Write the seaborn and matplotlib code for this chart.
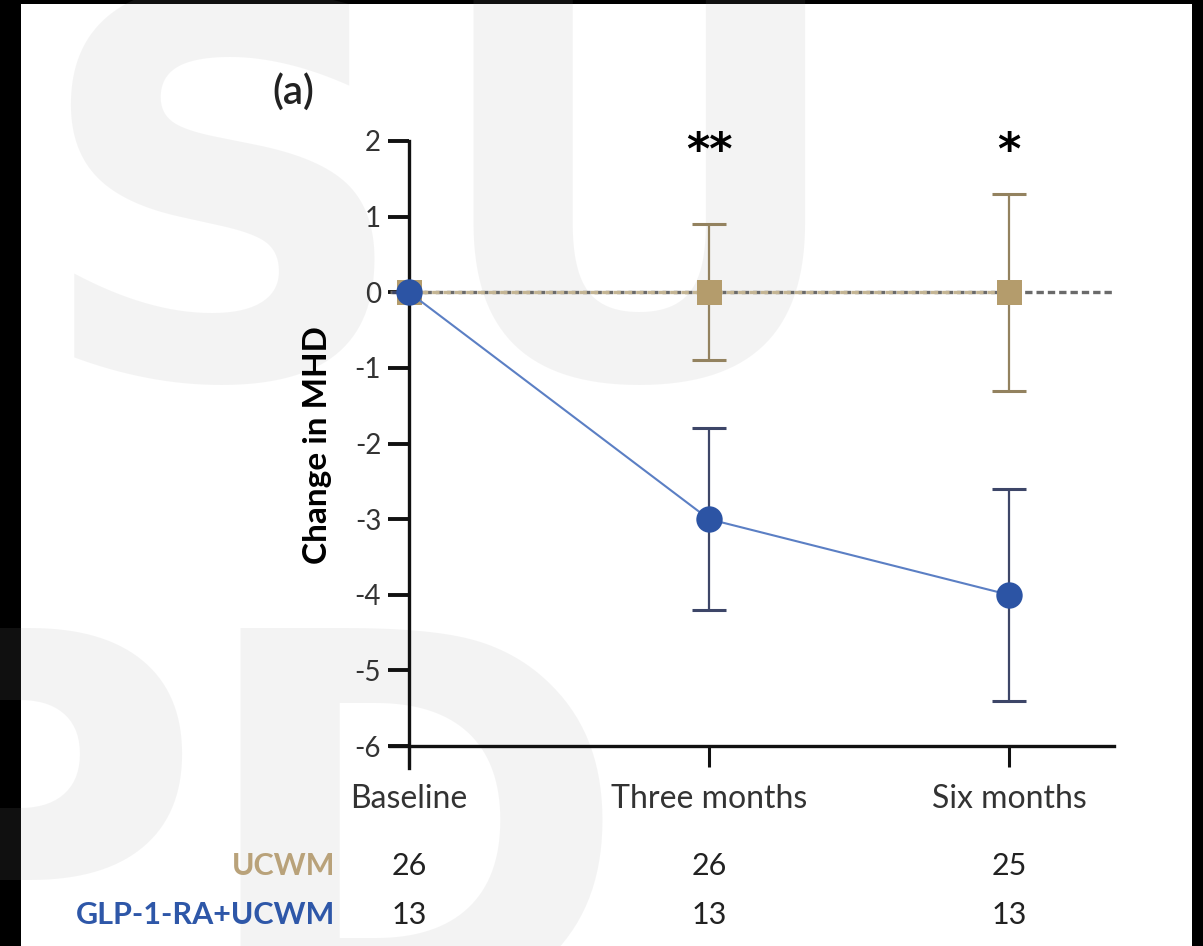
import pandas as pd
import matplotlib.pyplot as plt
import matplotlib.transforms as mtransforms
from matplotlib.patches import Rectangle
import seaborn as sns

# data
timepoints = ["Baseline", "Three months", "Six months"]
ucwm_mean = [0, 0, 0]
ucwm_err = [0, 0.9, 1.3]
glp_mean = [0, -3, -4]
glp_err = [0, 1.2, 1.4]
ucwm_n = [26, 26, 25]
glp_n = [13, 13, 13]
stars = ["", "**", "*"]
yticks = [2, 1, 0, -1, -2, -3, -4, -5, -6]

pos = list(range(len(timepoints)))
df_u = pd.DataFrame({"pos": pos, "mean": ucwm_mean, "err": ucwm_err})
df_g = pd.DataFrame({"pos": pos, "mean": glp_mean, "err": glp_err})

sns.set_theme(style="white")
plt.rcParams["font.family"] = ["Lato", "DejaVu Sans"]

W, H = 1203, 946
fig = plt.figure(figsize=(W / 100, H / 100), dpi=100, facecolor="black")


def fx(px):
    return px / W


def fy(py):
    return 1 - py / H


# white page inside black frame
fig.patches.append(Rectangle((fx(21), 0), fx(1192) - fx(21), fy(4), transform=fig.transFigure,
                             facecolor="white", edgecolor="none", zorder=-3))

# faint watermark letters
wm = dict(fontsize=380, fontweight="bold", color=(0.6, 0.6, 0.6), alpha=0.11,
          ha="center", va="baseline", zorder=-2, family="DejaVu Sans")
fig.text(fx(222), fy(378), "S", **wm)
fig.text(fx(639), fy(378), "U", **wm)
fig.text(fx(10), fy(1013), "P", **wm)
fig.text(fx(411), fy(1013), "D", **wm)

ax = fig.add_axes([fx(389.5), fy(768), fx(1114) - fx(389.5), fy(141) - fy(768)])
ax.patch.set_alpha(0)

tan = "#b49c6c"
blue = "#2c54a4"

ax.axhline(0, color="#6a6a6a", lw=2.4, ls=(0, (2.2, 1.2)), zorder=1)

ax.errorbar(df_u["pos"], df_u["mean"], yerr=df_u["err"], fmt="none", ecolor="#93825f",
            elinewidth=1.6, capsize=12, capthick=2.2, zorder=2)
ax.errorbar(df_g["pos"], df_g["mean"], yerr=df_g["err"], fmt="none", ecolor="#3d4668",
            elinewidth=1.6, capsize=12, capthick=2.2, zorder=2)

sns.lineplot(data=df_u, x="pos", y="mean", ax=ax, color="#c4b594", linewidth=2.4,
             linestyle=(0, (2.2, 1.2)), marker="s", markersize=18, markerfacecolor=tan,
             markeredgecolor=tan, markeredgewidth=0, zorder=3)
sns.lineplot(data=df_g, x="pos", y="mean", ax=ax, color="#5b7fc4", linewidth=1.5,
             marker="o", markersize=19, markerfacecolor=blue,
             markeredgecolor=blue, markeredgewidth=0, zorder=4)

ax.set_xlim(-0.065, 2.35)
ax.set_ylim(-6.29, 2.0)
ax.spines["left"].set_position(("data", 0))
ax.spines["bottom"].set_position(("data", -6))
for s in ["top", "right"]:
    ax.spines[s].set_visible(False)
for s in ["left", "bottom"]:
    ax.spines[s].set_linewidth(2.4)
    ax.spines[s].set_color("#111111")

ax.set_xticks(pos)
ax.set_xticklabels(timepoints, fontsize=23, color="#333333")
ax.set_yticks(yticks)
ax.set_yticklabels([str(v) for v in yticks], fontsize=20, color="#333333")
ax.tick_params(axis="x", direction="out", length=15, width=2.2, pad=12, colors="#111111",
               labelcolor="#333333", bottom=True)
ax.tick_params(axis="y", direction="out", length=15, width=2.8, pad=5, colors="#111111",
               labelcolor="#333333", left=True)
ax.set_xlabel("")
ax.set_ylabel("Change in MHD", fontsize=24, fontweight="bold", color="black")
ax.yaxis.set_label_coords((332 - 389.5) / 724.5, 0.515)

# significance marks
for p, s in zip(pos, stars):
    if s:
        ax.text(p, 1.86, s, fontsize=32, fontweight="bold", ha="center", va="center",
                family="DejaVu Sans", color="black", clip_on=False)

# panel label
fig.text(fx(293), fy(92), "(a)", fontsize=29, fontweight="semibold", ha="center",
         va="center", color="#222222")

# number at risk rows
trans = mtransforms.blended_transform_factory(ax.transData, fig.transFigure)
fig.text(fx(335), fy(866), "UCWM", fontsize=22, fontweight="bold", color="#b9a27a",
         ha="right", va="center")
fig.text(fx(335), fy(915), "GLP-1-RA+UCWM", fontsize=22, fontweight="bold", color="#2e57a8",
         ha="right", va="center")
for p, a, b in zip(pos, ucwm_n, glp_n):
    ax.text(p, fy(866), str(a), transform=trans, fontsize=22, ha="center", va="center",
            color="#222222")
    ax.text(p, fy(915), str(b), transform=trans, fontsize=22, ha="center", va="center",
            color="#222222")

fig.savefig("out.png", dpi=100, facecolor=fig.get_facecolor())
